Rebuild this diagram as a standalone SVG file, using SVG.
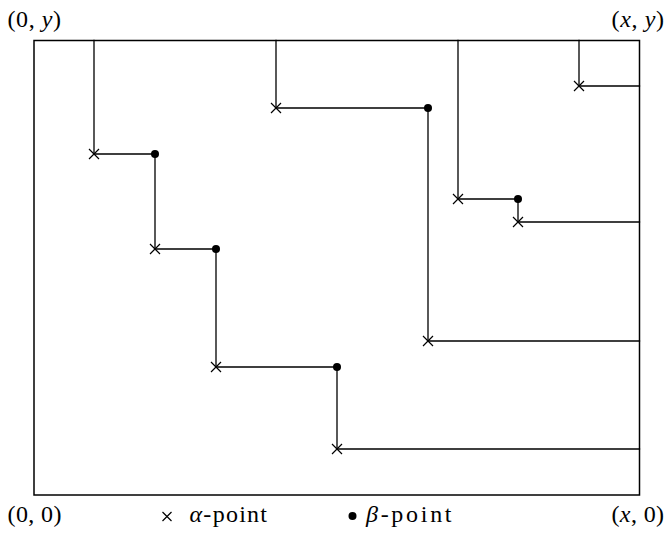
<svg xmlns="http://www.w3.org/2000/svg" width="666" height="533" viewBox="0 0 666 533">
<style>
.ln{stroke:#000;stroke-width:1.3;fill:none;stroke-linecap:square}
.box{stroke:#000;stroke-width:1.5;fill:none}
.x{stroke:#000;stroke-width:1.2;fill:none}
.dot{fill:#000}
text{font-family:"Liberation Serif","DejaVu Serif",serif;font-size:24px;fill:#000}
.i{font-style:italic}
</style>
<defs>
<path id="cross" d="M-5,-5L5,5M-5,5L5,-5" class="x"/>
<path id="lcross" d="M-4.5,-4.5L4.5,4.5M-4.5,4.5L4.5,-4.5" class="x"/>
</defs>
<rect class="box" x="34" y="40.5" width="605.5" height="454.5"/>
<g id="connectors">
<path class="ln" d="M94,40.5V154H155V249H216V367H337V449H639.5"/>
<path class="ln" d="M276,40.5V108H428V341H639.5"/>
<path class="ln" d="M458,40.5V199H518V222H639.5"/>
<path class="ln" d="M579,40.5V86H639.5"/>
</g>
<g id="nodes">
<g id="a1"><use href="#cross" x="94" y="154"/></g>
<g id="b1"><circle class="dot" cx="155" cy="154" r="4"/></g>
<g id="a2"><use href="#cross" x="155" y="249"/></g>
<g id="b2"><circle class="dot" cx="216" cy="249" r="4"/></g>
<g id="a3"><use href="#cross" x="216" y="367"/></g>
<g id="b3"><circle class="dot" cx="337" cy="367" r="4"/></g>
<g id="a4"><use href="#cross" x="337" y="449"/></g>
<g id="a5"><use href="#cross" x="276" y="108"/></g>
<g id="b5"><circle class="dot" cx="428" cy="108" r="4"/></g>
<g id="a6"><use href="#cross" x="428" y="341"/></g>
<g id="a7"><use href="#cross" x="458" y="199"/></g>
<g id="b7"><circle class="dot" cx="518" cy="199" r="4"/></g>
<g id="a8"><use href="#cross" x="518" y="222"/></g>
<g id="a9"><use href="#cross" x="579" y="86"/></g>
</g>
<g id="labels">
<text x="7.5" y="26.5" textLength="53.5" lengthAdjust="spacing">(0, <tspan class="i">y</tspan>)</text>
<text x="611.5" y="26.5" textLength="52.5" lengthAdjust="spacing">(<tspan class="i">x</tspan>, <tspan class="i">y</tspan>)</text>
<text x="7.5" y="521.5" textLength="54" lengthAdjust="spacing">(0, 0)</text>
<text x="611.5" y="521.5" textLength="52.5" lengthAdjust="spacing">(<tspan class="i">x</tspan>, 0)</text>
<g id="legend-alpha"><use href="#lcross" x="167" y="516.5"/><text x="189.5" y="521.5" textLength="77.5" lengthAdjust="spacing"><tspan class="i">α</tspan>-point</text></g>
<g id="legend-beta"><circle class="dot" cx="352.5" cy="516" r="4"/><text x="366" y="521.5" textLength="85.5" lengthAdjust="spacing"><tspan class="i">β</tspan>-point</text></g>
</g>
</svg>
